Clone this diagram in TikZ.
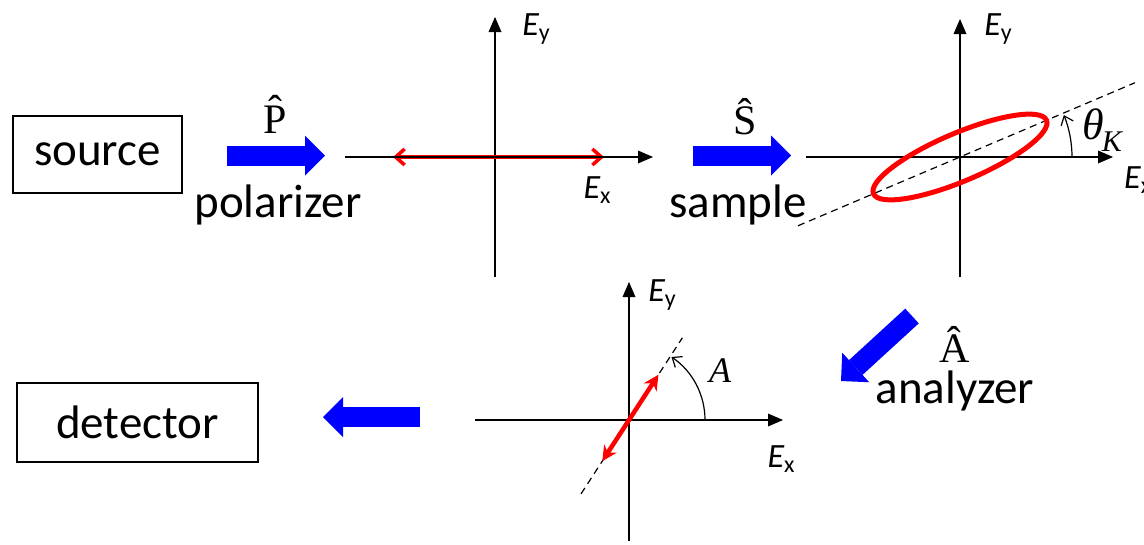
\documentclass[tikz,border=0pt]{standalone}
\usepackage{fontspec}
\setmainfont{Carlito}
\newfontfamily\serif{Liberation Serif}
\usetikzlibrary{arrows.meta}
\newcommand\Elab[1]{{\fontsize{34}{40}\selectfont\itshape E}{\fontsize{24}{28}\selectfont\raisebox{-5pt}{#1}}}
\begin{document}
\begin{tikzpicture}[x=1pt,y=-1pt,
 ax/.style={line width=1.4pt,-{Triangle[length=15pt,width=13pt,line width=0pt]}},
 bigarrow/.style={blue,line width=20pt,-{Triangle[length=20pt,width=40pt,line width=0pt]}},
 box/.style={draw,line width=1.3pt,inner sep=0pt},
 lbl/.style={font=\fontsize{47}{56}\selectfont,inner sep=0pt},
 hatl/.style={font=\serif\fontsize{42}{48}\selectfont,inner sep=0pt},
 elab/.style={inner sep=0pt},
 dsh/.style={line width=1.2pt,dash pattern=on 7pt off 5pt},
 angarc/.style={line width=1.2pt,-{Straight Barb[length=8pt,width=13pt]}},
]
\useasboundingbox (0,0) rectangle (1144,544);

% ---- boxes and text
\node[box,minimum width=169pt,minimum height=77pt,lbl] (src) at (97.5,154.5) {source};
\node[box,minimum width=241pt,minimum height=79pt,lbl] (det) at (137.5,422.5) {detector};

% ---- blue arrows
\coordinate (pa) at (227,155.5); \coordinate (pb) at (325,155.5);
\draw[bigarrow] (pa) -- (pb);
\node[hatl,anchor=base] (plab) at (275,133) {\^P};
\node[lbl,anchor=base] (pol) at (278,217) {polarizer};

\coordinate (sa) at (693,155.5); \coordinate (sb) at (791,155.5);
\draw[bigarrow] (sa) -- (sb);
\node[hatl,anchor=base] (slab) at (745,134) {\^S};
\node[lbl,anchor=base] (sam) at (738,217) {sample};

\coordinate (aa) at (912,316); \coordinate (ab) at (841,381);
\draw[bigarrow] (aa) -- (ab);
\node[hatl,anchor=base] (alab) at (955,362) {\^A};
\node[lbl,anchor=base] (ana) at (955,403) {analyzer};

\coordinate (da) at (420,417); \coordinate (db) at (323,417);
\draw[bigarrow] (da) -- (db);

% ---- axes 1 (polarizer)
\coordinate (o1) at (495,157);
\coordinate (x1a) at (345,157); \coordinate (x1b) at (653,157);
\coordinate (y1a) at (495,277); \coordinate (y1b) at (495,17);
\coordinate (r1a) at (393,157); \coordinate (r1b) at (604,157);
\draw[ax] (x1a) -- (x1b);
\draw[ax] (y1a) -- (y1b);
\draw[red,line width=3.5pt,{Straight Barb[length=9pt,width=16pt]}-{Straight Barb[length=9pt,width=16pt]}] (r1a) -- (r1b);
\draw[line width=1.2pt] (r1a) -- (r1b);
\node[elab] (ey1) at (536,29) {\Elab{y}};
\node[elab] (ex1) at (597,190) {\Elab{x}};

% ---- axes 2 (sample)
\coordinate (o2) at (960,157);
\coordinate (x2a) at (806,157); \coordinate (x2b) at (1113,157);
\coordinate (y2a) at (960,277); \coordinate (y2b) at (960,19);
\draw[ax] (x2a) -- (x2b);
\draw[ax] (y2a) -- (y2b);
\path (o2) ++(157:176) coordinate (d2a);
\path (o2) ++(-23:190) coordinate (d2b);
\draw[dsh] (d2a) -- (d2b);
\draw[red,line width=5pt,rotate around={23:(o2)}] (o2) ellipse [x radius=94, y radius=24];
\coordinate (t0) at (1072,157);
\draw[angarc] (t0) arc[start angle=0,end angle=-22,radius=112];
\node[elab] (ey2) at (998,29) {\Elab{y}};
\node[elab,anchor=base west] (tk) at (1082,139) {{\serif\itshape\fontsize{44}{50}\selectfont θ}{\serif\itshape\fontsize{30}{34}\selectfont\raisebox{-12pt}{\kern-2pt K}}};
\node[elab,anchor=west] (ex2) at (1124,180) {\Elab{x}};

% ---- axes 3 (analyzer)
\coordinate (o3) at (629,420);
\coordinate (x3a) at (475,420); \coordinate (x3b) at (783,420);
\coordinate (y3a) at (629,541); \coordinate (y3b) at (629,282);
\draw[ax] (x3a) -- (x3b);
\draw[ax] (y3a) -- (y3b);
\path (o3) ++(123:88) coordinate (d3a);
\path (o3) ++(-57:98) coordinate (d3b);
\draw[dsh] (d3a) -- (d3b);
\path (o3) ++(123:49) coordinate (r3a);
\path (o3) ++(-57:54) coordinate (r3b);
\draw[red,line width=4.5pt,{Stealth[length=15pt,width=15pt]}-{Stealth[length=15pt,width=15pt]}] (r3a) -- (r3b);
\coordinate (a0) at (705,420);
\draw[angarc] (a0) arc[start angle=0,end angle=-56,radius=76];
\node[elab] (ey3) at (662,295) {\Elab{y}};
\node[elab] (ex3) at (781,459) {\Elab{x}};
\node[elab,font=\serif\itshape\fontsize{36}{40}\selectfont] (alab2) at (720,371) {A};
\end{tikzpicture}
\end{document}
